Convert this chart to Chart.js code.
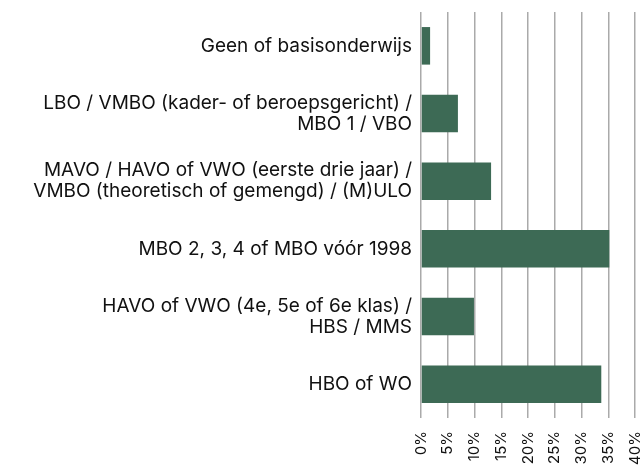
<!DOCTYPE html>
<html>
<head>
<meta charset="utf-8">
<script src="https://cdn.jsdelivr.net/npm/chart.js@4.4.0/dist/chart.umd.min.js"></script>
<style>
  html, body { margin: 0; padding: 0; background: #fff; overflow: hidden; }
  #wrap { width: 642px; height: 467px; position: relative; }
</style>
</head>
<body>
<div id="wrap"><canvas id="chart-edu"></canvas></div>
<script>
// education levels (multi-line labels)
const categories = [
    ['Geen of basisonderwijs'],
    ['LBO / VMBO (kader- of beroepsgericht) /', 'MBO 1 / VBO'],
    ['MAVO / HAVO of VWO (eerste drie jaar) /', 'VMBO (theoretisch of gemengd) / (M)ULO'],
    ['MBO 2, 3, 4 of MBO vóór 1998'],
    ['HAVO of VWO (4e, 5e of 6e klas) /', 'HBS / MMS'],
    ['HBO of WO']
];
const shares = [1.7, 6.9, 13.1, 35.2, 9.9, 33.7];
const xTicks = [0, 5, 10, 15, 20, 25, 30, 35, 40];

const FONT = "Inter, 'Noto Sans', sans-serif";

new Chart(document.getElementById('chart-edu'), {
    type: 'bar',
    data: {
        labels: categories,
        datasets: [{
            data: shares,
            backgroundColor: '#3d6a55',
            borderWidth: 0,
            categoryPercentage: 1,
            barPercentage: 0.555
        }]
    },
    options: {
        indexAxis: 'y',
        responsive: true,
        maintainAspectRatio: false,
        animation: false,
        layout: { padding: { top: 12, right: 7, left: 0, bottom: 0 } },
        plugins: { legend: { display: false }, tooltip: { enabled: false } },
        scales: {
            x: {
                min: 0,
                max: 40,
                afterBuildTicks: axis => { axis.ticks = xTicks.map(v => ({ value: v })); },
                afterFit: axis => {
                    axis.height = 49;
                    axis.paddingLeft = 0;
                    axis.paddingRight = 0;
                },
                grid: { color: '#aaaaaa', lineWidth: 1.5, drawTicks: false },
                border: { display: false },
                ticks: {
                    minRotation: 90,
                    maxRotation: 90,
                    padding: 13,
                    color: '#111',
                    font: { family: FONT, size: 15 },
                    callback: v => v + '%'
                }
            },
            y: {
                afterFit: axis => {
                    axis.width = 421;
                    axis.paddingTop = 0;
                    axis.paddingBottom = 0;
                },
                grid: { display: false, drawTicks: false },
                border: { display: false },
                ticks: {
                    padding: 9,
                    color: '#111',
                    font: { family: FONT, size: 19, lineHeight: 1.1 }
                }
            }
        }
    }
});
</script>
</body>
</html>
